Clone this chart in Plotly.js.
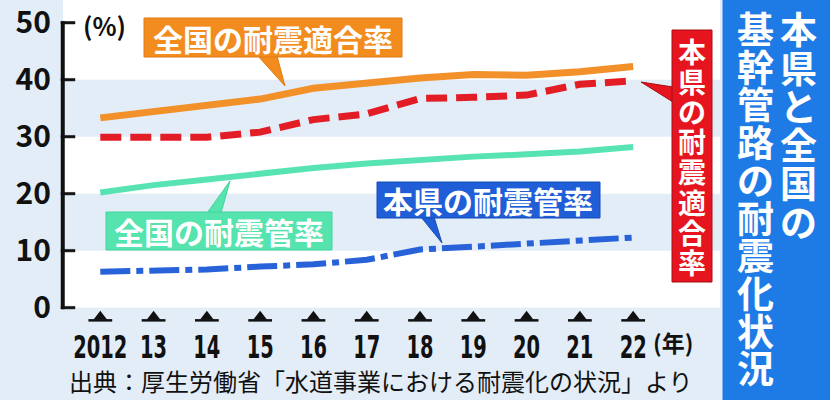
<!DOCTYPE html>
<html>
<head>
<meta charset="utf-8">
<script src="https://cdn.plot.ly/plotly-3.0.1.min.js"></script>
<style>body { margin: 0; }</style>
</head>
<body>
<div id="chart" style="width:830px;height:400px;"></div>
<script>
/***********
  DATA
************/
const years = [2012, 2013, 2014, 2015, 2016, 2017, 2018, 2019, 2020, 2021, 2022];
const yearLabels = ['2012', '13', '14', '15', '16', '17', '18', '19', '20', '21', '22'];
const yTicks = [0, 10, 20, 30, 40, 50];

// 全国の耐震適合率
const nationalFit = [33.3, 34.4, 35.5, 36.6, 38.5, 39.5, 40.3, 40.9, 40.8, 41.4, 42.3];
// 本県の耐震適合率
const prefFit = [29.9, 30.0, 29.9, 30.8, 33.0, 34.0, 36.7, 36.9, 37.3, 39.2, 39.8];
// 全国の耐震管率
const nationalPipe = [20.2, 21.5, 22.5, 23.6, 24.5, 25.3, 26.0, 26.5, 26.9, 27.4, 28.2];
// 本県の耐震管率
const prefPipe = [6.3, 6.5, 6.7, 7.2, 7.6, 8.4, 10.2, 10.7, 11.3, 11.8, 12.3];

/***********
  HELPERS
************/
const W = 830, H = 400;
const M = {l: 63, r: 110, t: 21, b: 78};
const plotW = W - M.l - M.r;
const plotH = H - M.t - M.b;
const caretRow = 0.042;   // strip under the value axis that holds the tick carets
const yRange = [-0.3, 50.3];
const JP = '"Noto Sans CJK JP", "Noto Sans", sans-serif';

// pixel position -> paper fraction
function px(x) { return (x - M.l) / plotW; }
function py(y) { return (H - M.b - y) / plotH; }
// value on the y axis -> paper fraction (same mapping as yaxis domain/range)
function yPaper(v) {
  return caretRow + (1 - caretRow) * (v - yRange[0]) / (yRange[1] - yRange[0]);
}

function rectPx(x0, y0, x1, y1, fill, edge) {
  return {type: 'rect', xref: 'paper', yref: 'paper', layer: 'above',
    x0: px(x0), x1: px(x1), y0: py(y0), y1: py(y1),
    fillcolor: fill, line: {color: edge || fill, width: 1}};
}

function wedgePx(pts, fill, edge) {
  let d = pts.map((p, i) => (i ? 'L' : 'M') + px(p[0]) + ',' + py(p[1])).join(' ') + ' Z';
  return {type: 'path', xref: 'paper', yref: 'paper', layer: 'above', path: d,
    fillcolor: fill, line: {color: edge || fill, width: 1}};
}

function textPx(x, y, text, size, color, bold) {
  return {xref: 'paper', yref: 'paper', x: px(x), y: py(y), text: text,
    showarrow: false, xanchor: 'center', yanchor: 'middle',
    font: {family: JP, size: size, color: color, weight: bold ? 'bold' : 'normal'}};
}

// vertical (tategaki) text, one annotation per character
function columnPx(x, yFirst, pitch, text, size, color) {
  return Array.from(text).map((ch, i) => textPx(x, yFirst + i * pitch, ch, size, color, true));
}

function lineTrace(y, color, width, dash) {
  return {x: years, y: y, type: 'scatter', mode: 'lines',
    line: {color: color, width: width, dash: dash}, hoverinfo: 'skip'};
}

function band(y0, y1) {
  return {type: 'rect', xref: 'paper', yref: 'y', x0: 0, x1: 1, y0: y0, y1: y1, layer: 'below',
    fillcolor: '#ffffff', line: {width: 0}};
}

// value axis spine and inward ticks (the bracket look at 0 and 50), drawn as thin filled rects
function axisMarks() {
  let lo = yTicks[0], hi = yTicks[yTicks.length - 1];
  let half = 1.25 / plotH;
  let spine = {type: 'rect', xref: 'paper', yref: 'paper', layer: 'above',
    x0: px(61), x1: px(64.5), y0: yPaper(lo) - half, y1: yPaper(hi) + half,
    fillcolor: '#111111', line: {color: '#111111', width: 0.5}};
  let ticks = yTicks.map(v => ({type: 'rect', xref: 'paper', yref: 'paper', layer: 'above',
    x0: px(61), x1: px(75), y0: yPaper(v) - half, y1: yPaper(v) + half,
    fillcolor: '#111111', line: {color: '#111111', width: 0.5}}));
  return [spine].concat(ticks);
}

/***********
  CHART
************/
function drawChart() {
  let traces = [
    lineTrace(nationalPipe, '#58e4b2', 6, 'solid'),
    lineTrace(prefPipe, '#2862d8', 6, '30px,6px,7px,6px'),
    lineTrace(prefFit, '#e31d25', 7, '21px,9px'),
    lineTrace(nationalFit, '#f2902a', 7, 'solid'),
    // tick carets under the axis
    {x: years, y: years.map(() => 0.42), yaxis: 'y2', type: 'scatter', mode: 'markers',
      cliponaxis: false, marker: {symbol: 'triangle-up', size: 12, color: '#111'}, hoverinfo: 'skip'},
    {x: years, y: years.map(() => 0.13), yaxis: 'y2', type: 'scatter', mode: 'markers',
      cliponaxis: false, marker: {symbol: 'line-ew', size: 17, line: {color: '#111', width: 2.5}},
      hoverinfo: 'skip'}
  ];

  let shapes = axisMarks().concat([
    // white bands on the light blue ground
    band(0, 10),
    band(20, 30),
    band(40, 51),
    {type: 'rect', xref: 'paper', yref: 'paper', x0: 0, x1: 1, y0: 0.99, y1: py(0), layer: 'below',
      fillcolor: '#ffffff', line: {width: 0}},
    // title panel
    rectPx(723, -2, 832, 402, '#1e7be6'),
    // callouts
    wedgePx([[258, 56], [277, 56], [285, 86]], '#f28c1f', '#e07a14'),
    rectPx(144, 18, 402, 57, '#f28c1f', '#e07a14'),
    wedgePx([[207, 213], [221, 213], [230, 181]], '#55e3ae', '#44d49e'),
    rectPx(106, 212, 332, 250, '#55e3ae', '#44d49e'),
    wedgePx([[421, 217], [434, 217], [442, 243]], '#1f5ed6', '#174cb8'),
    rectPx(377, 182, 600, 218, '#1f5ed6', '#174cb8'),
    wedgePx([[673, 87], [673, 102], [641, 82]], '#e5141e', '#a80e16'),
    rectPx(672, 30, 712, 282, '#e5141e', '#a80e16')
  ]);

  let annotations = [
    textPx(273, 38, '全国の耐震適合率', 30, '#ffffff', true),
    textPx(219, 231, '全国の耐震管率', 30, '#ffffff', true),
    textPx(488, 200, '本県の耐震管率', 30, '#ffffff', true),
    textPx(104, 25, '(%)', 25, '#111', true),
    textPx(673, 342, '(年)', 23, '#111', true),
    textPx(381, 380, '出典：厚生労働省「水道事業における耐震化の状況」より', 24, '#111', false)
  ]
    .concat(columnPx(692, 51, 30.1, '本県の耐震適合率', 28, '#ffffff'))
    .concat(columnPx(798, 28, 38.5, '本県と全国の', 37, '#ffffff'))
    .concat(columnPx(755, 28, 37.7, '基幹管路の耐震化状況', 37, '#ffffff'));

  let layout = {
    width: W, height: H,
    margin: M,
    showlegend: false,
    paper_bgcolor: '#e3edf8',
    plot_bgcolor: '#e3edf8',
    xaxis: {
      anchor: 'y2',
      range: [2011.3, 2023.63],
      tickvals: years, ticktext: yearLabels,
      tickangle: 0,
      ticks: '', showline: false, showgrid: false, zeroline: false,
      ticklabelstandoff: 3,
      tickfont: {family: '"Liberation Sans Narrow", "DejaVu Sans Condensed", sans-serif',
        size: 32, color: '#111', weight: 'bold'}
    },
    yaxis: {
      domain: [caretRow, 1],
      range: yRange,
      tickvals: yTicks,
      ticks: '', showline: false, showgrid: false, zeroline: false,
      ticklabelstandoff: 11,
      ticklabeloverflow: 'allow',
      tickfont: {family: JP, size: 30, color: '#111', weight: 'bold'}
    },
    yaxis2: {
      domain: [0, caretRow],
      range: [0, 1],
      visible: false
    },
    shapes: shapes,
    annotations: annotations
  };

  Plotly.newPlot('chart', traces, layout, {staticPlot: true}).then(squeezeYearLabels);
}

// the year labels in the original are a very narrow bold face
function squeezeYearLabels() {
  document.querySelectorAll('.xtick text').forEach(t => {
    let n = t.textContent.length;
    t.setAttribute('textLength', n * 13.5);
    t.setAttribute('lengthAdjust', 'spacingAndGlyphs');
  });
}

/***********
  INIT
************/
drawChart();
</script>
</body>
</html>
